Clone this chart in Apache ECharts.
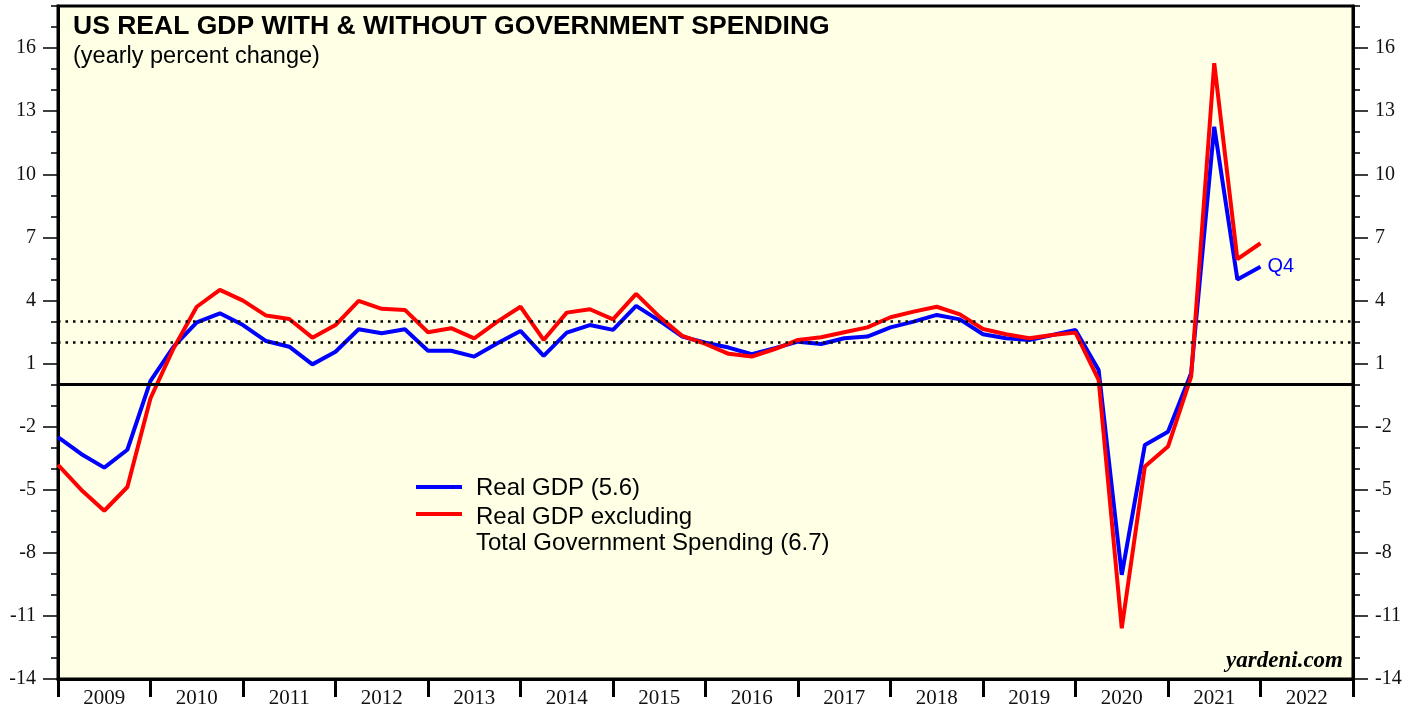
<!DOCTYPE html>
<html><head><meta charset="utf-8">
<script src="https://cdn.jsdelivr.net/npm/echarts@6/dist/echarts.min.js"></script>
<style>html,body{margin:0;padding:0;background:#fff;}#c{width:1421px;height:712px;}</style>
</head><body><div id="c"></div>
<script>
// quarters (plotted at quarter end)
const quarters = ['2008Q4',
 '2009Q1','2009Q2','2009Q3','2009Q4','2010Q1','2010Q2','2010Q3','2010Q4',
 '2011Q1','2011Q2','2011Q3','2011Q4','2012Q1','2012Q2','2012Q3','2012Q4',
 '2013Q1','2013Q2','2013Q3','2013Q4','2014Q1','2014Q2','2014Q3','2014Q4',
 '2015Q1','2015Q2','2015Q3','2015Q4','2016Q1','2016Q2','2016Q3','2016Q4',
 '2017Q1','2017Q2','2017Q3','2017Q4','2018Q1','2018Q2','2018Q3','2018Q4',
 '2019Q1','2019Q2','2019Q3','2019Q4','2020Q1','2020Q2','2020Q3','2020Q4',
 '2021Q1','2021Q2','2021Q3','2021Q4'];
const realGDP = [-2.5,
 -3.3,-3.95,-3.1,0.17, 1.8,2.96,3.39,2.83, 2.07,1.8,0.96,1.56, 2.63,2.44,2.63,1.61,
 1.61,1.33,1.96,2.55, 1.36,2.47,2.83,2.6, 3.74,3.04,2.28,1.99, 1.76,1.44,1.73,2.04,
 1.93,2.2,2.28,2.72, 2.99,3.31,3.1,2.39, 2.2,2.12,2.36,2.6, 0.69,-9.05,-2.87,-2.24,
 0.54,12.26,5.0,5.6];
const realGDPexGov = [-3.82,
 -5.0,-6.0,-4.87,-0.65, 1.73,3.7,4.5,3.99, 3.28,3.12,2.23,2.83, 3.98,3.6,3.55,2.49,
 2.68,2.2,2.99,3.7, 2.12,3.42,3.58,3.1, 4.31,3.23,2.31,1.93, 1.46,1.33,1.69,2.12,
 2.25,2.49,2.72,3.2, 3.47,3.7,3.34,2.64, 2.39,2.2,2.36,2.47, 0.22,-11.59,-3.9,-2.95,
 0.38,15.28,5.96,6.72];
const years = ['2009','2010','2011','2012','2013','2014','2015','2016','2017','2018','2019','2020','2021','2022'];
const yTickLabels = [];
for (let v = -14; v <= 18; v++) yTickLabels.push(String(v));
const refLinesDotted = [2, 3];

function qx(q){ const y = +q.slice(0,4), n = +q.slice(5); return y + n/4; }
const blueData = quarters.map((q,i)=>[qx(q), realGDP[i]]);
const redData = quarters.map((q,i)=>[qx(q), realGDPexGov[i]]);

const serif = '"Liberation Serif","Times New Roman",serif';
const sans = '"Liberation Sans",Arial,sans-serif';
const majorInt = (i)=> i % 3 === 0;

function catY(pos, major){
  return {
    type:'category', position:pos, data:yTickLabels, boundaryGap:false, gridIndex:0,
    axisLine:{show:major, lineStyle:{color:'#000', width:3}},
    axisTick:{show:true, alignWithLabel:true, interval: major ? majorInt : 0, length: major?15:7, lineStyle:{color:'#000', width:1.5}},
    axisLabel:{show:major, interval: majorInt, color:'#111', fontFamily:serif, fontSize:20, margin:22},
    splitLine:{show:false}
  };
}

const chart = echarts.init(document.getElementById('c'));
chart.setOption({
  animation:false,
  backgroundColor:'#ffffff',
  grid:{left:58, right:68, top:6, bottom:33, show:true, backgroundColor:'#ffffe6', borderColor:'#000', borderWidth:3},
  xAxis:[
    {type:'value', min:2009, max:2023, interval:1, position:'bottom',
     axisLine:{show:true, onZero:false, lineStyle:{color:'#000', width:3}},
     axisTick:{show:true, length:18, lineStyle:{color:'#000', width:3}},
     axisLabel:{show:false}, splitLine:{show:false}},
    {type:'category', data:years, position:'bottom', boundaryGap:true,
     axisLine:{show:false, onZero:false}, axisTick:{show:false},
     axisLabel:{color:'#111', fontFamily:serif, fontSize:21, margin:9}}
  ],
  yAxis:[
    {type:'value', min:-14, max:18, show:false},
    catY('left', true), catY('left', false), catY('right', true), catY('right', false)
  ],
  series:[
    {type:'line', name:'Real GDP', data:blueData, xAxisIndex:0, yAxisIndex:0, showSymbol:false,
     lineStyle:{color:'#0000ff', width:4}, z:3,
     markLine:{silent:true, symbol:'none', label:{show:false},
       data:[
         {yAxis:0, lineStyle:{color:'#000', width:3, type:'solid'}},
         ...refLinesDotted.map(v=>({yAxis:v, lineStyle:{color:'#000', width:2.5, type:[2.5,5]}}))
       ]},
     endLabel:{show:true, formatter:'Q4', color:'#0000ff', fontFamily:sans, fontSize:20, distance:7}
    },
    {type:'line', name:'Real GDP excluding Total Government Spending', data:redData, xAxisIndex:0, yAxisIndex:0, showSymbol:false,
     lineStyle:{color:'#ff0000', width:4}, z:4}
  ],
  graphic:[
    {type:'text', left:73, top:13, style:{text:'US REAL GDP WITH & WITHOUT GOVERNMENT SPENDING', font:'bold 26.5px '+sans, fill:'#000'}},
    {type:'text', left:73, top:45, style:{text:'(yearly percent change)', font:'23.5px '+sans, fill:'#000'}},
    {type:'line', shape:{x1:416,y1:487,x2:462,y2:487}, style:{stroke:'#0000ff', lineWidth:4}},
    {type:'line', shape:{x1:416,y1:514,x2:462,y2:514}, style:{stroke:'#ff0000', lineWidth:4}},
    {type:'text', left:476, top:476, style:{text:'Real GDP (5.6)', font:'24px '+sans, fill:'#000'}},
    {type:'text', left:476, top:504, style:{text:'Real GDP excluding\nTotal Government Spending (6.7)', font:'24px '+sans, fill:'#000', lineHeight:26}},
    {type:'text', right:78, top:650, style:{text:'yardeni.com', font:'italic bold 23px '+serif, fill:'#000'}}
  ]
});
</script></body></html>
